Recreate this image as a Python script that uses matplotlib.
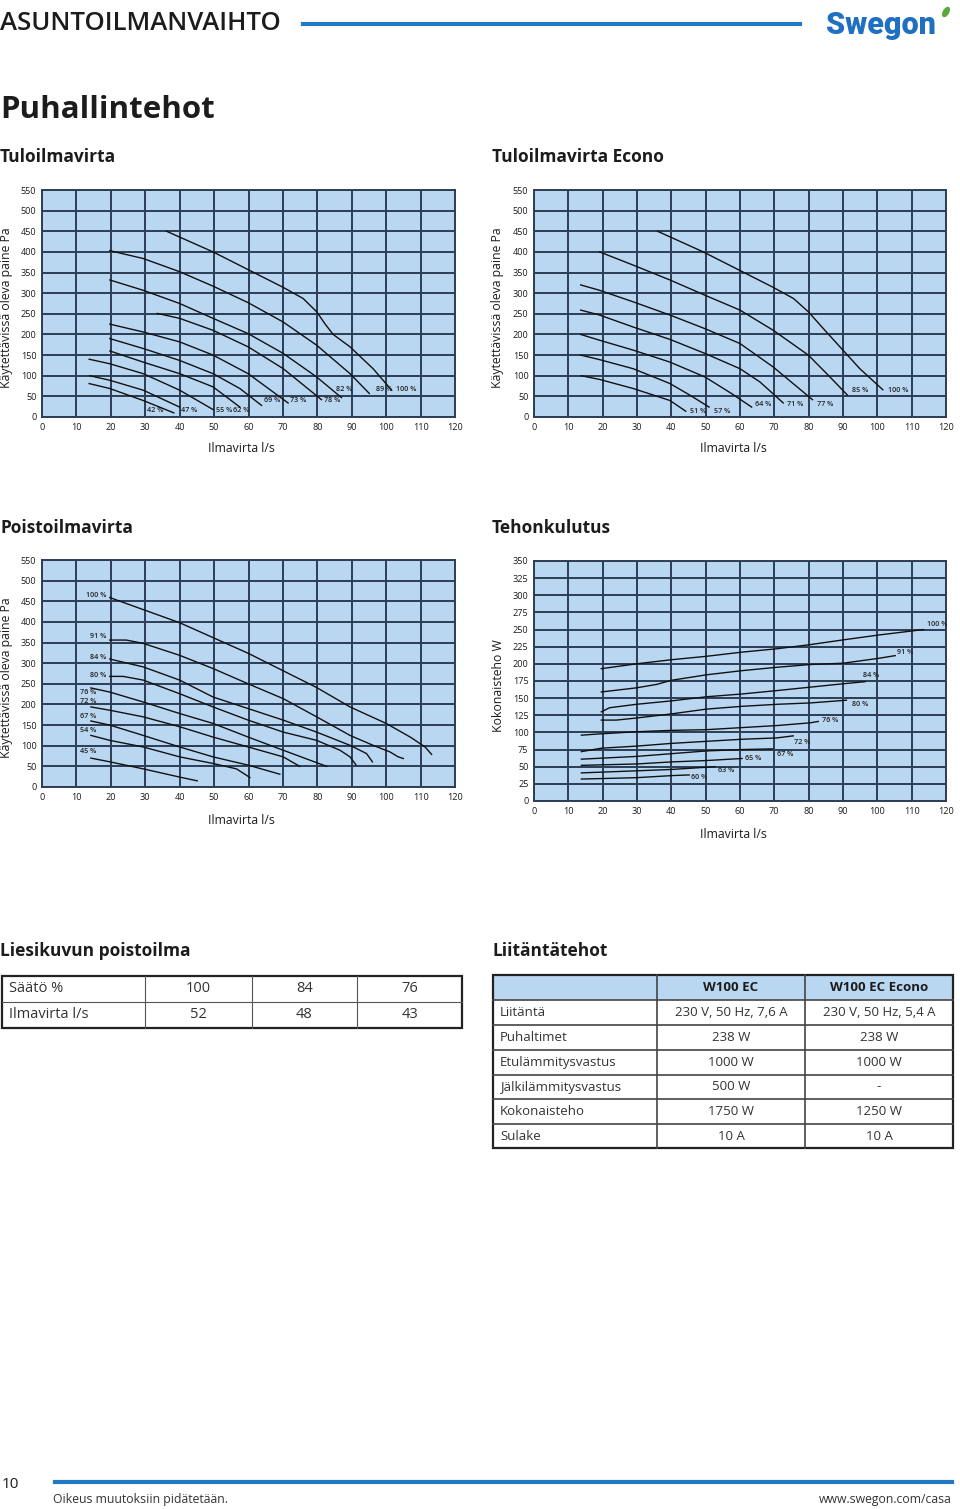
import matplotlib
matplotlib.use("Agg")
import matplotlib.pyplot as plt
from matplotlib.patches import Rectangle, Ellipse

plt.rcParams['font.family'] = ['Open Sans', 'DejaVu Sans']

# ---- Tuloilmavirta (supply air) ----
tulo_labels = ["100 %", "89 %", "82 %", "78 %", "73 %", "69 %", "62 %", "55 %", "47 %", "42 %"]
tulo_x = [
    [36.2, 49.7, 59.9, 70.1, 75.9, 79.8, 82.2, 84.6, 89.5, 96.2, 101.6],
    [19.7, 29.4, 40, 49.7, 59.9, 70.1, 79.8, 89.5, 95.1],
    [19.7, 29.4, 40, 49.7, 59.9, 70.1, 79.8, 87],
    [33.5, 40, 49.7, 59.9, 70.1, 81.2],
    [19.7, 29.4, 40, 49.7, 59.9, 71.5],
    [19.7, 29.4, 40, 49.7, 57.5, 63.8],
    [19.7, 29.4, 40, 49.7, 57.5],
    [13.7, 19.7, 29.4, 40, 49.7],
    [13.9, 19.7, 29.4, 40],
    [13.7, 19.7, 29.4, 38.3],
]
tulo_y = [
    [450, 400, 357, 314, 287, 255, 226, 200, 170, 117, 65],
    [403, 384, 352, 317, 277, 230, 174, 105, 57],
    [332, 307, 275, 239, 202, 154, 97, 47],
    [251, 239, 210, 170, 117, 42],
    [225, 206, 182, 150, 105, 34],
    [190, 166, 137, 105, 69, 28],
    [160, 133, 105, 73, 24],
    [140, 129, 105, 65, 18],
    [100, 89, 65, 24],
    [81, 69, 40, 10],
]
tulo_lab_x = [103, 97, 85.5, 82, 72, 64.4, 55.5, 50.5, 40.5, 30.5]
tulo_lab_y = [66, 66, 66, 39, 39, 39, 16, 16, 16, 16]

# ---- Tuloilmavirta Econo ----
econo_labels = ["100 %", "85 %", "77 %", "71 %", "64 %", "57 %", "51 %"]
econo_x = [
    [36, 49.3, 59.5, 69.7, 75.6, 79.9, 84.3, 89.1, 94.9, 101.6],
    [19.1, 28.9, 39.6, 49.8, 60, 69.7, 79.9, 86.2, 91.3],
    [13.6, 19.1, 28.9, 39.6, 49.8, 60, 69.7, 81.1],
    [13.6, 19.1, 28.9, 39.6, 49.8, 60, 65.8, 72.6],
    [13.6, 19.1, 28.9, 39.6, 49.8, 57.5, 63.4],
    [13.6, 19.1, 28.9, 39.6, 45.4, 51],
    [13.8, 19.1, 28.9, 39.6, 44.2],
]
econo_y = [
    [450, 400, 357, 314, 287, 255, 214, 170, 117, 66],
    [400, 368, 332, 295, 259, 210, 150, 97, 53],
    [320, 307, 279, 247, 214, 178, 121, 42],
    [259, 247, 218, 188, 154, 117, 85, 34],
    [200, 186, 162, 133, 97, 57, 24],
    [150, 139, 117, 81, 53, 24],
    [100, 91, 69, 40, 14],
]
econo_lab_x = [103, 92.5, 82.5, 73.8, 64.5, 52.3, 45.3]
econo_lab_y = [65, 65, 30, 30, 30, 14, 14]

# ---- Poistoilmavirta (exhaust air) ----
poisto_labels = ["100 %", "91 %", "84 %", "80 %", "76 %", "72 %", "67 %", "54 %", "45 %"]
poisto_x = [
    [19.7, 40, 59.9, 79.8, 89.5, 100, 107, 111.3, 113.2],
    [19.7, 24.5, 29.4, 40, 49.7, 59.9, 70.1, 79.8, 89.5, 96.2, 101.1, 103.5, 105],
    [19.7, 29.4, 40, 49.7, 59.9, 70.1, 79.8, 89.5, 94.3, 96],
    [19.7, 23.6, 29.4, 40, 49.7, 59.9, 70.1, 79.8, 86.6, 89.5, 91.2],
    [14.2, 19.7, 29.4, 40, 49.7, 59.9, 70.1, 82.7],
    [14.2, 19.7, 29.4, 40, 49.7, 59.9, 70.1, 74.9],
    [14.2, 19.7, 29.4, 40, 49.7, 59.9, 69.1],
    [14.2, 19.7, 29.4, 40, 49.7, 56.5, 60.4],
    [14.2, 19.7, 29.4, 40, 45.1],
]
poisto_y = [
    [459, 398, 324, 241, 194, 154, 121, 97, 79],
    [356, 356, 348, 319, 287, 250, 214, 170, 125, 101, 85, 73, 69],
    [310, 291, 259, 218, 190, 162, 133, 101, 81, 61],
    [268, 268, 259, 226, 194, 162, 133, 113, 89, 73, 54],
    [240, 230, 206, 178, 154, 121, 89, 50],
    [194, 186, 170, 146, 121, 97, 73, 50],
    [160, 150, 125, 97, 73, 53, 31],
    [125, 113, 97, 73, 57, 44, 23],
    [70, 61, 44, 24, 15],
]
poisto_lab_x = [18.8, 18.8, 18.8, 18.8, 11, 11, 11, 11, 11]
poisto_lab_y = [465, 364, 313, 270, 228, 208, 172, 137, 85]

# ---- Tehonkulutus (power consumption) ----
teho_labels = ["100 %", "91 %", "84 %", "80 %", "76 %", "72 %", "67 %", "65 %", "63 %", "60 %"]
teho_x = [
    [19.6, 29.8, 40, 50.2, 60.4, 70.7, 80.4, 90.1, 100.3, 113.4],
    [19.6, 29.8, 35.7, 40, 50.2, 60.4, 70.7, 80.4, 90.1, 100.3, 105.2],
    [19.6, 22, 29.8, 40, 50.2, 60.4, 70.7, 80.4, 90.1, 96.4],
    [19.6, 24, 29.8, 40, 50.2, 60.4, 70.7, 80.4, 91],
    [13.8, 19.6, 29.8, 40, 50.2, 60.4, 70.7, 80.4, 82.8],
    [13.8, 19.6, 29.8, 40, 50.2, 60.4, 70.7, 75.5],
    [13.8, 29.8, 40, 50.2, 60.4, 69.5],
    [13.8, 29.8, 40, 50.2, 60.6],
    [13.8, 29.8, 40, 52.7],
    [13.8, 29.8, 40, 45.2],
]
teho_y = [
    [193, 200, 206, 211, 217, 222, 228, 235, 242, 250],
    [159, 165, 170, 176, 184, 190, 195, 199, 201, 208, 212],
    [130, 136, 141, 146, 152, 156, 161, 166, 171, 174],
    [118, 118, 121, 127, 134, 138, 141, 143, 147],
    [96, 98, 101, 103, 104, 107, 110, 114, 116],
    [72, 77, 80, 84, 87, 90, 92, 95],
    [61, 65, 69, 73, 75, 76],
    [52, 54, 57, 59, 62],
    [41, 44, 46, 50],
    [32, 34, 37, 38],
]
teho_lab_x = [114.5, 105.8, 95.8, 92.5, 83.8, 75.8, 70.7, 61.6, 53.6, 45.8]
teho_lab_y = [257, 217, 183, 141, 117, 86, 68, 62, 44, 34]

# ---- tables ----
liesi_rows = [["Säätö %", "100", "84", "76"], ["Ilmavirta l/s", "52", "48", "43"]]
liit_head = ["", "W100 EC", "W100 EC Econo"]
liit_rows = [
    ["Liitäntä", "230 V, 50 Hz, 7,6 A", "230 V, 50 Hz, 5,4 A"],
    ["Puhaltimet", "238 W", "238 W"],
    ["Etulämmitysvastus", "1000 W", "1000 W"],
    ["Jälkilämmitysvastus", "500 W", "-"],
    ["Kokonaisteho", "1750 W", "1250 W"],
    ["Sulake", "10 A", "10 A"],
]

W, H = 960, 1509
BG = "#bad7f1"
GRID = "#2c3d55"
DARK = "#1c1c1c"
BLUE = "#2179c4"

fig = plt.figure(figsize=(W / 100, H / 100), dpi=100)

page = fig.add_axes([0, 0, 1, 1])
page.set_xlim(0, W)
page.set_ylim(H, 0)
page.axis("off")


def rect(x0, y0, x1, y1):
    return [x0 / W, 1 - y1 / H, (x1 - x0) / W, (y1 - y0) / H]


def chart(box, ymax, ystep, xs, ys, labels, lx, ly, ha="left"):
    ax = fig.add_axes(rect(*box))
    ax.set_facecolor(BG)
    ax.set_xlim(0, 120)
    ax.set_ylim(0, ymax)
    ax.set_xticks(range(0, 121, 10))
    ax.set_yticks(range(0, ymax + 1, ystep))
    ax.grid(True, color=GRID, linewidth=1.4)
    ax.set_axisbelow(True)
    for s in ax.spines.values():
        s.set_color(GRID)
        s.set_linewidth(1.4)
    ax.tick_params(length=0, pad=4, labelsize=6.6, colors=DARK)
    for x, y in zip(xs, ys):
        ax.plot(x, y, color="#111111", linewidth=1.0)
    for t, x, y in zip(labels, lx, ly):
        ax.text(x, y, t, fontsize=5.2, color="#222222", ha=ha, va="center",
                fontweight="semibold")
    return ax


chart((42, 190, 455, 417), 550, 50, tulo_x, tulo_y, tulo_labels, tulo_lab_x, tulo_lab_y)
chart((534, 190, 946, 417), 550, 50, econo_x, econo_y, econo_labels, econo_lab_x, econo_lab_y)
ax3 = chart((42, 560, 455, 787), 550, 50, poisto_x, poisto_y, [], [], [])
for i, (t, x, y) in enumerate(zip(poisto_labels, poisto_lab_x, poisto_lab_y)):
    ax3.text(x, y, t, fontsize=5.2, color="#222222", ha="right" if i < 4 else "left",
             va="center", fontweight="semibold")
chart((534, 561, 946, 801), 350, 25, teho_x, teho_y, teho_labels, teho_lab_x, teho_lab_y)

# axis titles
ylab = "Käytettävissä oleva paine Pa"
page.text(7, 308, ylab, rotation=90, ha="center", va="center", fontsize=8.8, color=DARK)
page.text(498, 308, ylab, rotation=90, ha="center", va="center", fontsize=8.8, color=DARK)
page.text(7, 678, ylab, rotation=90, ha="center", va="center", fontsize=8.8, color=DARK)
page.text(498, 686, "Kokonaisteho W", rotation=90, ha="center", va="center", fontsize=8.8, color=DARK)
page.text(241, 449, "Ilmavirta l/s", ha="center", va="center", fontsize=8.8, color=DARK)
page.text(733, 449, "Ilmavirta l/s", ha="center", va="center", fontsize=8.8, color=DARK)
page.text(241, 820, "Ilmavirta l/s", ha="center", va="center", fontsize=8.8, color=DARK)
page.text(733, 834, "Ilmavirta l/s", ha="center", va="center", fontsize=8.8, color=DARK)

# header
page.text(0, 24, "ASUNTOILMANVAIHTO", fontsize=18.5, fontweight="semibold", color=DARK,
          va="center", ha="left")
page.plot([303, 800], [24, 24], color=BLUE, linewidth=3)
page.text(881, 25, "Swegon", fontsize=22, color="#1f6fc2", fontweight="black",
          va="center", ha="center", family=["Roboto", "DejaVu Sans"])
page.add_patch(Ellipse((946, 12), 5, 10, angle=30, color="#5aa83a"))

page.text(0, 110, "Puhallintehot", fontsize=22.5, fontweight="bold", color=DARK, va="center")
heads = [(0, 157, "Tuloilmavirta"), (492, 157, "Tuloilmavirta Econo"),
         (0, 528, "Poistoilmavirta"), (492, 528, "Tehonkulutus"),
         (0, 951, "Liesikuvun poistoilma"), (492, 951, "Liitäntätehot")]
for x, y, t in heads:
    page.text(x, y, t, fontsize=12.5, fontweight="bold", color=DARK, va="center")

# left table
cols = [2, 145, 252, 357, 462]
rows = [976, 1002, 1028]
for r, row in enumerate(liesi_rows):
    yc = (rows[r] + rows[r + 1]) / 2
    for c, t in enumerate(row):
        if c == 0:
            page.text(cols[0] + 7, yc, t, fontsize=10.5, color="#333333", va="center")
        else:
            page.text((cols[c] + cols[c + 1]) / 2, yc, t, fontsize=10.5, color="#333333",
                      va="center", ha="center")
for x in cols[1:-1]:
    page.plot([x, x], [rows[0], rows[-1]], color="#555555", linewidth=0.8)
page.plot([cols[0], cols[-1]], [rows[1], rows[1]], color="#555555", linewidth=0.8)
page.add_patch(Rectangle((cols[0], rows[0]), cols[-1] - cols[0], rows[-1] - rows[0],
                         fill=False, edgecolor="#222222", linewidth=1.6))

# right table
cols2 = [493, 657, 805, 953]
rows2 = [975, 1000, 1025, 1050, 1075, 1099, 1124, 1148]
page.add_patch(Rectangle((cols2[0], rows2[0]), cols2[-1] - cols2[0], rows2[1] - rows2[0],
                         facecolor=BG, edgecolor="none"))
for c, t in enumerate(liit_head):
    page.text((cols2[c] + cols2[c + 1]) / 2, (rows2[0] + rows2[1]) / 2, t, fontsize=9.5,
              fontweight="bold", color=DARK, va="center", ha="center")
for r, row in enumerate(liit_rows):
    yc = (rows2[r + 1] + rows2[r + 2]) / 2
    for c, t in enumerate(row):
        if c == 0:
            page.text(cols2[0] + 7, yc, t, fontsize=9.5, color="#333333", va="center")
        else:
            page.text((cols2[c] + cols2[c + 1]) / 2, yc, t, fontsize=9.5, color="#333333",
                      va="center", ha="center")
for x in cols2[1:-1]:
    page.plot([x, x], [rows2[0], rows2[-1]], color="#444444", linewidth=1.2)
for y in rows2[1:-1]:
    page.plot([cols2[0], cols2[-1]], [y, y], color="#444444", linewidth=1.2)
page.add_patch(Rectangle((cols2[0], rows2[0]), cols2[-1] - cols2[0], rows2[-1] - rows2[0],
                         fill=False, edgecolor="#222222", linewidth=1.6))

# footer
page.text(2, 1484, "10", fontsize=11, color=DARK, va="center")
page.plot([55, 952], [1482, 1482], color=BLUE, linewidth=3)
page.text(53, 1500, "Oikeus muutoksiin pidätetään.", fontsize=8.8, color="#333333", va="center")
page.text(952, 1500, "www.swegon.com/casa", fontsize=8.8, color="#333333", va="center", ha="right")

fig.savefig("out.png", dpi=100)
